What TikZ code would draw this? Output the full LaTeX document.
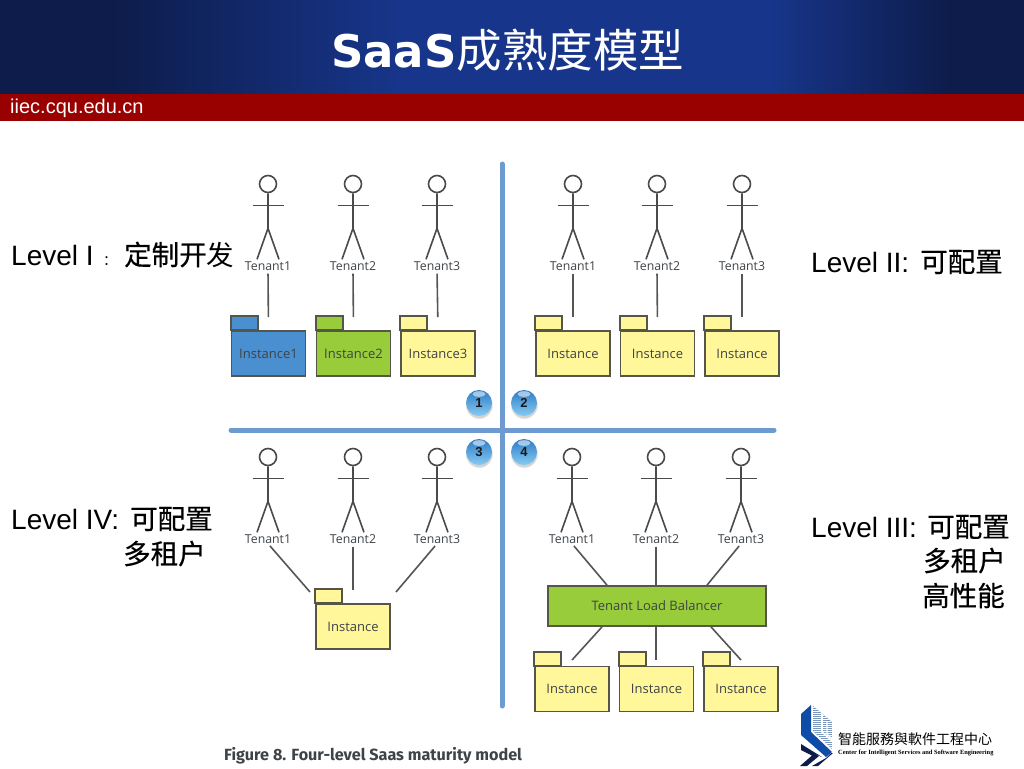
\documentclass[tikz,border=0pt]{standalone}
\usepackage{fontspec}
\usetikzlibrary{shadows,calc}
\setmainfont{Liberation Sans}
\newfontfamily\cjk{Noto Sans CJK SC}
\newfontfamily\cjkb[FakeBold=0.5]{Noto Sans CJK SC}
\newfontfamily\cjktc{Noto Sans CJK TC}
\newfontfamily\titlefont{DejaVu Sans}
\newfontfamily\uifont{Open Sans}
\newfontfamily\capfont{Fira Sans}
\newfontfamily\logofont{Liberation Serif}
\definecolor{bandred}{HTML}{990000}
\definecolor{navyA}{HTML}{0D1C4A}
\definecolor{navyB}{HTML}{17358A}
\definecolor{axisblue}{HTML}{6E9BCF}
\definecolor{edgegray}{HTML}{55554A}
\definecolor{wireGray}{HTML}{555555}
\definecolor{actorInk}{HTML}{4A4A4A}
\definecolor{inkgray}{HTML}{3E4348}
\definecolor{fblue}{HTML}{4A90D0}
\definecolor{fgreen}{HTML}{98CC3A}
\definecolor{fyellow}{HTML}{FFF799}
\definecolor{balltop}{HTML}{2F7CC6}
\definecolor{ballbot}{HTML}{86CBF3}
\definecolor{logoblue}{HTML}{0F4CA8}
\definecolor{logostripe}{HTML}{7C97BE}
\tikzset{
  x=1pt,y=-1pt,
  figwire/.style={draw=wireGray,line width=1.6pt},
  actorline/.style={draw=actorInk,line width=1.6pt},
  tenantlabel/.style={font=\uifont\fontsize{12.3}{12.3}\selectfont,text=inkgray,inner sep=0pt,anchor=center},
  folderbody/.style={draw=edgegray,line width=1.8pt,fill=#1,minimum width=74pt,minimum height=45pt,inner sep=0pt,font=\uifont\fontsize{13}{13}\selectfont,text=inkgray},
  foldertab/.style={draw=edgegray,line width=1.8pt,fill=#1},
  axisline/.style={draw=axisblue,line width=5pt,line cap=round},
  lvl/.style={font=\fontsize{28}{28}\selectfont,text=black,inner sep=0pt,anchor=base west},
  lvlcjk/.style={font=\cjkb\fontsize{27.5}{27.5}\selectfont,text=black,inner sep=0pt,anchor=base west},
  ballnode/.style={circle,minimum size=26pt,inner sep=0pt,top color=balltop,bottom color=ballbot,circular drop shadow={shadow xshift=0pt,shadow yshift=-2pt,shadow scale=1.08,opacity=.35}},
}
% \tenantat{name}{x}{head y}{label}
\newcommand{\tenantat}[4]{%
  \node[circle,draw=actorInk,line width=1.6pt,minimum size=17pt,inner sep=0pt] (#1h) at (#2,#3) {};
  \draw[actorline] (#1h.south) -- ++(0,35) coordinate (#1c) -- ++(-11,31);
  \draw[actorline] (#1c) -- ++(11,31);
  \draw[actorline] ($(#1h.south)+(-15.5,12)$) -- ++(31,0);
  \node[tenantlabel] (#1) at (#2,#3+82) {#4};
}
% \folderat{name}{center x}{center y}{colour}{text}
\newcommand{\folderat}[5]{%
  \node[folderbody=#4] (#1) at (#2,#3) {#5};
  \draw[foldertab=#4] (#1.north west) -- ++(0,-14) -- ++(27,0) -- ++(0,14) -- cycle;
}
\begin{document}
\begin{tikzpicture}
\useasboundingbox (0,0) rectangle (1024,768);
\fill[white] (0,0) rectangle (1024,768);
% header
\fill[navyA] (0,0) rectangle (110,94);
\shade[left color=navyA,right color=navyB] (110,0) rectangle (400,94);
\fill[navyB] (399.5,0) rectangle (770.5,94);
\shade[left color=navyB,right color=navyA] (770,0) rectangle (950,94);
\fill[navyA] (949.5,0) rectangle (1024,94);
\fill[bandred] (0,94) rectangle (1024,121);
\node[anchor=base west,inner sep=0pt,text=white] (title) at (331,67) {\titlefont\bfseries\fontsize{45}{45}\selectfont SaaS\cjk\mdseries\fontsize{45.5}{45.5}\selectfont 成熟度模型};
\node[anchor=base west,inner sep=0pt,text=white,font=\fontsize{20}{20}\selectfont] (site) at (10,113) {iiec.cqu.edu.cn};
% axes
\draw[axisline] (502,164) -- (502,706);
\draw[axisline] (231,430) -- (774,430);
% balls
\foreach \n/\x/\y in {1/479/403,2/524/403,3/479/452,4/524/452}{
  \node[ballnode] (b\n) at (\x,\y) {};
  \fill[white,opacity=.55] (\x,\y-9) ellipse (6.5pt and 2.8pt);
  \node[inner sep=0pt,font=\bfseries\fontsize{13}{13}\selectfont,text=black!90] at (b\n) {\n};
}
% Q1
\tenantat{a1}{268}{184}{Tenant1}
\tenantat{a2}{353}{184}{Tenant2}
\tenantat{a3}{437}{184}{Tenant3}
\folderat{fa1}{268.5}{353.5}{fblue}{Instance1}
\folderat{fa2}{353.5}{353.5}{fgreen}{Instance2}
\folderat{fa3}{438}{353.5}{fyellow}{Instance3}
\foreach \k in {1,2,3}
  \draw[figwire,shorten <=3pt,shorten >=13pt] (a\k.south) -- (fa\k.north);
% Q2
\tenantat{b1x}{573}{184}{Tenant1}
\tenantat{b2x}{657}{184}{Tenant2}
\tenantat{b3x}{742}{184}{Tenant3}
\folderat{fb1}{573}{353.5}{fyellow}{Instance}
\folderat{fb2}{657.5}{353.5}{fyellow}{Instance}
\folderat{fb3}{742}{353.5}{fyellow}{Instance}
\foreach \k in {1,2,3}
  \draw[figwire,shorten <=3pt,shorten >=13pt] (b\k x.south) -- (fb\k.north);
% Q4 left
\tenantat{c1}{268}{457}{Tenant1}
\tenantat{c2}{353}{457}{Tenant2}
\tenantat{c3}{437}{457}{Tenant3}
\folderat{fc}{353}{626.5}{fyellow}{Instance}
\coordinate (fcl) at (310,592);
\coordinate (fcm) at (353,590);
\coordinate (fcr) at (396,592);
\draw[figwire,shorten <=3pt] (c1.south) -- (fcl);
\draw[figwire,shorten <=3pt] (c2.south) -- (fcm);
\draw[figwire,shorten <=3pt] (c3.south) -- (fcr);
% Q3 right
\tenantat{d1}{572}{457}{Tenant1}
\tenantat{d2}{656}{457}{Tenant2}
\tenantat{d3}{741}{457}{Tenant3}
\node[draw=edgegray,line width=1.8pt,fill=fgreen,minimum width=218pt,minimum height=40pt,inner sep=0pt,font=\uifont\fontsize{13}{13}\selectfont,text=inkgray] (lb) at (657,606) {Tenant Load Balancer};
\folderat{fd1}{572}{689}{fyellow}{Instance}
\folderat{fd2}{656.5}{689}{fyellow}{Instance}
\folderat{fd3}{741}{689}{fyellow}{Instance}
\draw[figwire,shorten <=3pt] (d1.south) -- ($(lb.north)+(-50,0)$);
\draw[figwire,shorten <=3pt] (d2.south) -- (d2.south|-lb.north);
\draw[figwire,shorten <=3pt] (d3.south) -- ($(lb.north)+(50,0)$);
\coordinate (e1) at (572,660);
\coordinate (e2) at (656,660);
\coordinate (e3) at (741,660);
\draw[figwire] ($(lb.south)+(-55,0)$) -- (e1);
\draw[figwire] (e2|-lb.south) -- (e2);
\draw[figwire] ($(lb.south)+(54,0)$) -- (e3);
% Level labels
\node[lvl] (l1) at (11,265) {Level I};
\node[inner sep=0pt,anchor=base west,font=\cjk\fontsize{14}{14}\selectfont] (l1c) at (103,265) {：};
\node[lvlcjk] (l1b) at (124,265) {定制开\cjk 发};
\node[lvl] (l2) at (811,272) {Level II:};
\node[lvlcjk] (l2b) at (920,272) {可配置};
\node[lvl] (l4) at (11,529) {Level IV:};
\node[lvlcjk] (l4a) at (130,529) {可配置};
\node[lvlcjk] (l4b) at (123,564) {多租户};
\node[lvl] (l3) at (811,537) {Level III:};
\node[lvlcjk] (l3a) at (927,537) {可配置};
\node[lvlcjk] (l3b) at (923,571) {多租户};
\node[lvlcjk] (l3c) at (922,606) {高性能};
% caption
\node[anchor=base west,inner sep=0pt,text=inkgray,font=\capfont\bfseries\fontsize{16.2}{16.2}\selectfont] (cap) at (224,760) {Figure 8. Four-level Saas maturity model};
% logo
\fill[logoblue] (801,714) -- (811,705) -- (811,732) -- (832,752) -- (826,757) -- (801,735) -- cycle;
\begin{scope}
  \clip (813,706) -- (832,722) -- (832,749) -- (813,731) -- cycle;
  \fill[logostripe] (813,705) rectangle (832,750);
  \foreach \yy in {707,709,...,749}
    \draw[white,line width=.5pt] (813,\yy) -- (832,\yy);
  \draw[white,line width=1.6pt] (822,714) -- (822,732) -- (832,741);
  \draw[white,line width=1.2pt] (827,722) -- (827,734) -- (832,739);
\end{scope}
\fill[navyA] (801,744) -- (822,757) -- (801,748.5) -- cycle;
\fill[navyA] (801,746) -- (819,756) -- (807,766) -- (800,766) -- (812,755.5) -- (801,750) -- cycle;
\fill[navyA] (812,766) -- (826,758) -- (831,753) -- (833,753) -- (818,766) -- cycle;
\node[anchor=west,inner sep=0pt,font=\cjktc\fontsize{14}{14}\selectfont,text=black] (logocn) at (838,739) {智能服務與軟件工程中心};
\node[anchor=west,inner sep=0pt,font=\logofont\bfseries\fontsize{6.4}{6.4}\selectfont,text=black] (logoen) at (838,753) {Center for Intelligent Services and Software Engineering};
\end{tikzpicture}
\end{document}
